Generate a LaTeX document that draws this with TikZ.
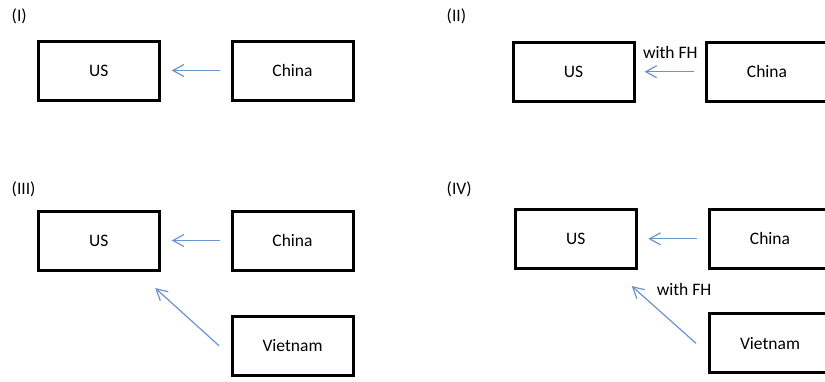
\documentclass[tikz,border=0pt]{standalone}
\usepackage{fontspec}
\setmainfont{Carlito}
\usetikzlibrary{arrows.meta}
\definecolor{arrowblue}{RGB}{108,148,204}
\begin{document}
\begin{tikzpicture}[x=1pt,y=-1pt,
  txt/.style={font=\fontsize{17.5}{21}\selectfont, text=black},
  box/.style={txt, draw=black, line width=3pt, minimum width=121pt, minimum height=59pt, inner sep=0pt, outer sep=0pt},
  flow/.style={draw=arrowblue, line width=1.2pt, -{Straight Barb[length=11pt,width=12pt]}},
  panel/.style={txt, anchor=base west, inner sep=0pt},
  lbl/.style={txt, anchor=base, inner sep=0pt}]
\useasboundingbox (0,0) rectangle (825,381);
% Panel I
\node[panel] (p1) at (11.5,21.7) {(I)};
\node[box] (us1) at (98.7,70.5) {US};
\node[box] (cn1) at (292.5,70.5) {China};
\draw[flow, shorten <=12pt, shorten >=12.5pt] (cn1.west) -- (us1.east);
% Panel II
\node[panel] (p2) at (446.5,21.7) {(II)};
\node[box] (us2) at (573.5,71.7) {US};
\node[box] (cn2) at (767,71.7) {China};
\draw[flow, shorten <=12.2pt, shorten >=10.5pt] (cn2.west) -- node[lbl, midway, yshift=13pt] (fh2) {with FH} (us2.east);
% Panel III
\node[panel] (p3) at (11.5,194) {(III)};
\node[box] (us3) at (98.7,240.5) {US};
\node[box] (cn3) at (292.5,240.5) {China};
\node[box] (vn3) at (292.5,345.7) {Vietnam};
\draw[flow, shorten <=12pt, shorten >=12.5pt] (cn3.west) -- (us3.east);
\draw[flow] ([xshift=-13pt]vn3.west) -- ([shift={(-4,18)}]us3.south east);
% Panel IV
\node[panel] (p4) at (446.5,194) {(IV)};
\node[box] (us4) at (575.8,238.8) {US};
\node[box] (cn4) at (770,238.8) {China};
\node[box] (vn4) at (770,343.3) {Vietnam};
\draw[flow, shorten <=12.8pt, shorten >=12pt] (cn4.west) -- (us4.east);
\draw[flow] ([xshift=-13.5pt]vn4.west) -- ([shift={(-4.6,17.7)}]us4.south east);
\node[lbl] (fh4) at (684,295) {with FH};
\end{tikzpicture}
\end{document}
